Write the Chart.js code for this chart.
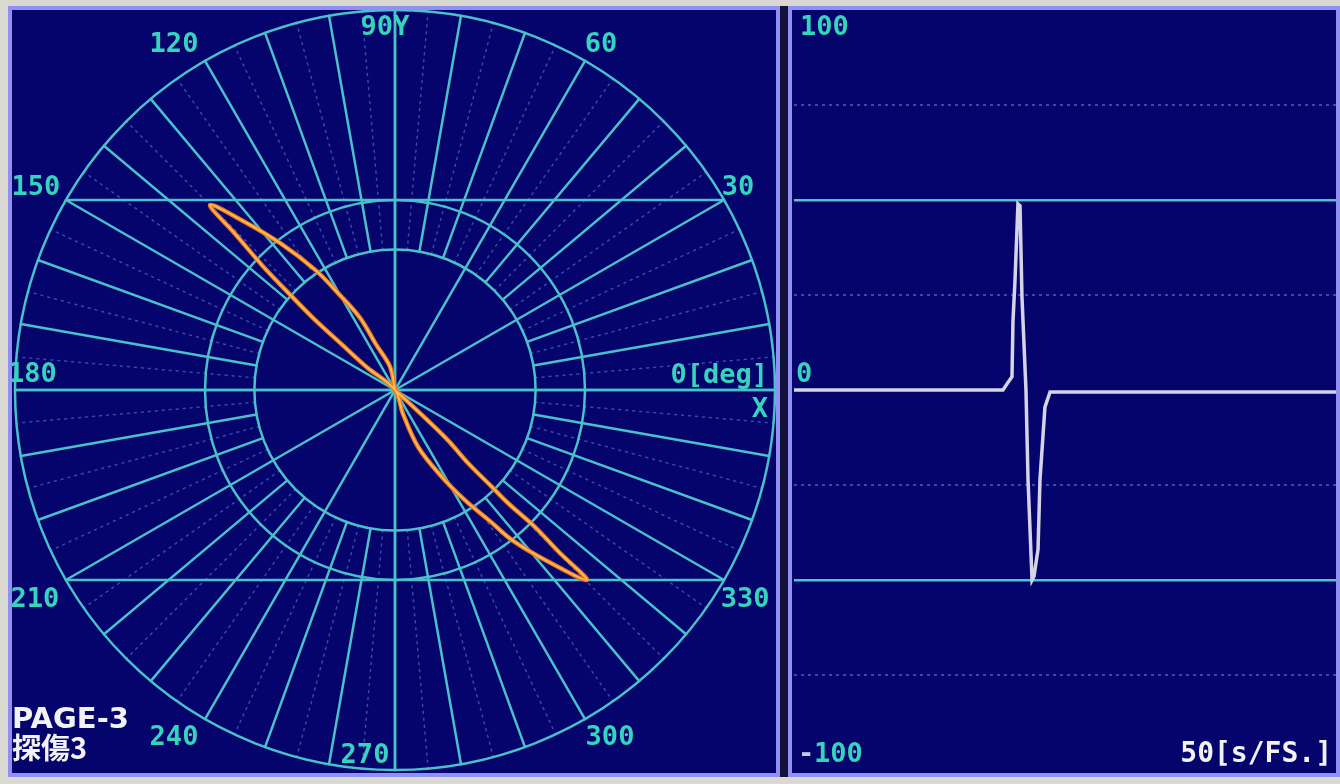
<!DOCTYPE html>
<html>
<head>
<meta charset="utf-8">
<script src="https://cdn.jsdelivr.net/npm/chart.js@4.4.1/dist/chart.umd.min.js"></script>
<style>
html, body { margin: 0; padding: 0; }
body { width: 1340px; height: 784px; background: #d9d9d2; position: relative; overflow: hidden; }
.frame { position: absolute; background: #04046c; border: 4px solid #8f8ff4; box-sizing: border-box; }
#leftFrame { left: 8px; top: 6px; width: 772px; height: 771px; }
#rightFrame { left: 788px; top: 6px; width: 552px; height: 771px; }
#gap { position: absolute; left: 780px; top: 6px; width: 8px; height: 771px; background: #12123a; }
canvas { position: absolute; }
#xy { left: 12px; top: 10px; }
#tb { left: 794px; top: 10px; }
</style>
</head>
<body>
<div class="frame" id="leftFrame"></div>
<div id="gap"></div>
<div class="frame" id="rightFrame"></div>
<canvas id="xy" width="764" height="763"></canvas>
<canvas id="tb" width="542" height="763"></canvas>
<script>
// X-Y (lissajous) trace, % of full scale
const lissX = [0, -1.3, -5, -9.2, -15, -21, -30, -40, -48.7,
               -42, -34.7, -28, -21.6, -14, -7.4, 0,
               2, 6.1, 12, 18.4, 25, 30.8, 40, 50.5,
               43, 36.8, 30, 25.5, 19, 13.9, 7, 0];
const lissY = [0, 6.1, 12, 19, 25.5, 31.6, 38.5, 44.5, 48.7,
               41, 32.5, 25.5, 19, 12, 6, 0,
               -6, -15, -22.5, -29, -34.5, -39.5, -45, -50,
               -42.5, -36, -30, -25.5, -19, -13.2, -6.5, 0];

// time base trace
const timeS = [0, 19.28, 19.74, 20.11, 20.2, 20.39, 20.66, 20.85, 21.03, 21.4,
               21.59, 21.96, 22.14, 22.51, 22.69, 23.15, 23.62, 50];
const signalPct = [0, 0, 2, 3.5, 18, 29, 49, 48.5, 24.5, 0,
                   -23.7, -50, -49, -42, -23.7, -4.5, -0.5, -0.5];

// polar grid
const ringRadii = [37, 50, 100];
const polarAngles = [0, 30, 60, 90, 120, 150, 180, 210, 240, 270, 300, 330];
const polarLabels = ['0[deg]', '30', '60', '90Y', '120', '150', '180', '210', '240', '270', '300', '330'];

// time base grid
const yTicks = [-100, -75, -50, -25, 0, 25, 50, 75, 100];

const gridColor = '#4ac0ca';
const labelColor = '#36d4bc';
const monoFont = 'bold 27px "DejaVu Sans Mono"';

// label nudges away from the circle, by angle
const labelNudge = {
  0: [-7, -14, 'right'], 30: [14, -12, 'center'], 60: [16, -16, 'center'], 90: [-10, 18, 'center'],
  120: [-31, -16, 'center'], 150: [-30, -12, 'center'], 180: [-7, -15, 'left'], 210: [-31, 20, 'center'],
  240: [-31, 19, 'center'], 270: [-30, -14, 'center'], 300: [25, 19, 'center'], 330: [21, 20, 'center']
};

const polarGrid = {
  id: 'polarGrid',
  beforeDatasetsDraw(chart) {
    const { ctx, chartArea: a } = chart;
    const x = chart.scales.x, y = chart.scales.y;
    const cx = x.getPixelForValue(0), cy = y.getPixelForValue(0);
    const k = (x.getPixelForValue(100) - cx) / 100;
    const spoke = (deg, r0, r1) => {
      const t = deg * Math.PI / 180;
      ctx.beginPath();
      ctx.moveTo(cx + r0 * Math.cos(t), cy - r0 * Math.sin(t));
      ctx.lineTo(cx + r1 * Math.cos(t), cy - r1 * Math.sin(t));
      ctx.stroke();
    };
    ctx.save();
    ctx.lineCap = 'round';
    ctx.strokeStyle = 'rgba(80,110,210,0.65)';
    ctx.lineWidth = 1.5;
    ctx.setLineDash([2, 5]);
    for (let d = 5; d < 360; d += 10) spoke(d, ringRadii[0] * k, 100 * k);
    ctx.setLineDash([]);
    ctx.strokeStyle = gridColor;
    ctx.lineWidth = 2.5;
    for (let d = 0; d < 360; d += 10) spoke(d, d % 30 === 0 ? 0 : ringRadii[0] * k, 100 * k);
    ringRadii.forEach(r => {
      ctx.beginPath();
      ctx.arc(cx, cy, r * k, 0, Math.PI * 2);
      ctx.stroke();
    });
    // chords at +-50 and full axes
    const half = Math.sqrt(100 * 100 - 50 * 50);
    [50, -50].forEach(v => {
      ctx.beginPath();
      ctx.moveTo(x.getPixelForValue(-half), y.getPixelForValue(v));
      ctx.lineTo(x.getPixelForValue(half), y.getPixelForValue(v));
      ctx.stroke();
    });
    ctx.beginPath();
    ctx.moveTo(a.left, cy); ctx.lineTo(a.right, cy);
    ctx.moveTo(cx, a.top); ctx.lineTo(cx, a.bottom);
    ctx.stroke();
    ctx.restore();
  },
  afterDraw(chart) {
    const { ctx } = chart;
    const x = chart.scales.x, y = chart.scales.y;
    const cx = x.getPixelForValue(0), cy = y.getPixelForValue(0);
    const R = x.getPixelForValue(100) - cx;
    ctx.save();
    ctx.font = monoFont;
    ctx.textBaseline = 'middle';
    ctx.fillStyle = labelColor;
    polarAngles.forEach((deg, i) => {
      const t = deg * Math.PI / 180;
      const [dx, dy, align] = labelNudge[deg];
      ctx.textAlign = align;
      ctx.fillText(polarLabels[i], cx + R * Math.cos(t) + dx, cy - R * Math.sin(t) + dy);
    });
    ctx.textAlign = 'center';
    ctx.fillText('X', cx + R - 15, cy + 20);
    ctx.fillStyle = '#f2f2f2';
    ctx.textAlign = 'left';
    ctx.font = 'bold 29px "DejaVu Sans"';
    ctx.fillText('PAGE-3', 0, cy + 330);
    ctx.font = 'bold 29px "Noto Sans CJK JP"';
    ctx.fillText('探傷3', 0, cy + 358);
    ctx.restore();
  }
};

const timeLabels = {
  id: 'timeLabels',
  afterDraw(chart) {
    const { ctx, chartArea: a } = chart;
    const y = chart.scales.y;
    ctx.save();
    ctx.font = monoFont;
    ctx.textBaseline = 'middle';
    ctx.textAlign = 'left';
    ctx.fillStyle = labelColor;
    ctx.fillText(String(yTicks[yTicks.length - 1]), a.left + 6, y.getPixelForValue(100) + 18);
    ctx.fillText('0', a.left + 2, y.getPixelForValue(0) - 15);
    ctx.fillStyle = '#c8c8e8';
    ctx.fillText('-', a.left + 4, y.getPixelForValue(-100) - 15);
    ctx.fillStyle = labelColor;
    ctx.fillText(String(-yTicks[0]), a.left + 20, y.getPixelForValue(-100) - 15);
    ctx.fillStyle = '#f2f2f2';
    ctx.textAlign = 'right';
    ctx.font = 'bold 28px "DejaVu Sans Mono"';
    ctx.fillText('50[s/FS.]', a.right - 4, y.getPixelForValue(-100) - 15);
    ctx.restore();
  }
};

const lissPoints = lissX.map((v, i) => ({ x: v, y: lissY[i] }));

new Chart(document.getElementById('xy'), {
  type: 'scatter',
  data: {
    datasets: [
      { data: lissPoints, showLine: true, borderColor: '#ffc24a', borderWidth: 1.8, pointRadius: 0, tension: 0.35 },
      { data: lissPoints, showLine: true, borderColor: '#f07428', borderWidth: 4.5, pointRadius: 0, tension: 0.35 }
    ]
  },
  options: {
    responsive: false,
    animation: false,
    layout: { padding: { left: 3, right: 1, top: 0, bottom: 3 } },
    plugins: { legend: { display: false }, tooltip: { enabled: false } },
    scales: {
      x: { type: 'linear', min: -100, max: 100, display: false },
      y: { type: 'linear', min: -100, max: 100, display: false }
    }
  },
  plugins: [polarGrid]
});

new Chart(document.getElementById('tb'), {
  type: 'scatter',
  data: {
    datasets: [{
      data: timeS.map((t, i) => ({ x: t, y: signalPct[i] })),
      showLine: true, borderColor: '#d4d4e6', borderWidth: 3.5, pointRadius: 0, tension: 0
    }]
  },
  options: {
    responsive: false,
    animation: false,
    layout: { padding: { left: 0, right: 0, top: 0, bottom: 3 } },
    plugins: { legend: { display: false }, tooltip: { enabled: false } },
    scales: {
      x: { type: 'linear', min: 0, max: 50, display: false },
      y: {
        type: 'linear', min: -100, max: 100,
        afterBuildTicks: s => { s.ticks = yTicks.map(v => ({ value: v })); },
        ticks: { display: false },
        grid: {
          drawTicks: false,
          color: c => {
            const v = Math.abs(c.tick.value);
            if (v === 50) return '#4cc4cc';
            if (v === 25 || v === 75) return 'rgba(80,110,210,0.65)';
            return 'rgba(0,0,0,0)';
          },
          lineWidth: c => Math.abs(c.tick.value) === 50 ? 2.5 : 2
        },
        border: { display: false, dash: c => (c.tick && Math.abs(c.tick.value) % 50 === 25) ? [3, 4] : [] }
      }
    }
  },
  plugins: [timeLabels]
});
</script>
</body>
</html>
